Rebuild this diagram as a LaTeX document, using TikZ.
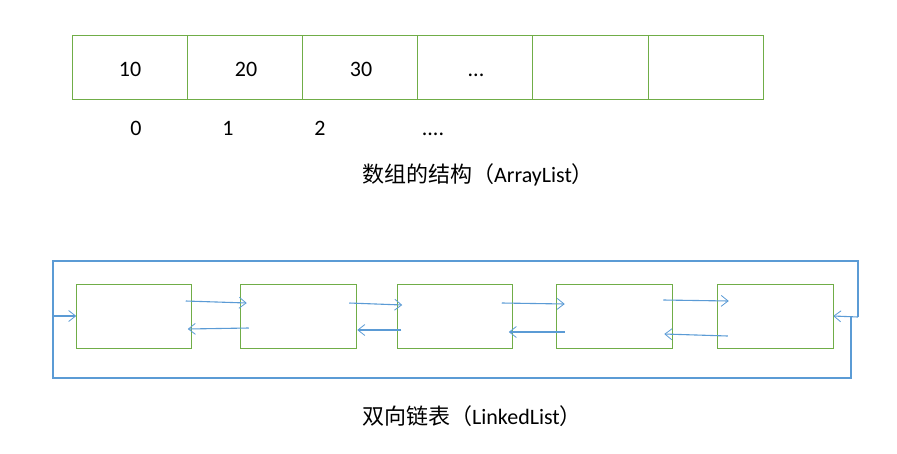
\documentclass[tikz,border=0pt]{standalone}
\usepackage{fontspec}
\setmainfont{Carlito}
\newfontfamily\cjk{Noto Sans CJK SC}
\usetikzlibrary{arrows.meta,calc}
\definecolor{boxgreen}{HTML}{70AD47}
\definecolor{linkblue}{HTML}{5B9BD5}
\begin{document}
\begin{tikzpicture}[x=1pt,y=-1pt,
  cell/.style={draw=boxgreen,line width=0.9pt,minimum width=115.2pt,minimum height=64pt,inner sep=0pt,outer sep=0pt},
  lnode/.style={draw=boxgreen,line width=0.9pt,minimum width=115.5pt,minimum height=64pt,inner sep=0pt,outer sep=0pt},
  txt/.style={font=\fontsize{22}{26}\selectfont,anchor=base,inner sep=0pt},
  link/.style={draw=linkblue,line width=1.1pt},
  arr/.style={link,-{Straight Barb[length=7pt,width=11pt,line width=0.8pt]}}]
\useasboundingbox (0,0) rectangle (897,453);
% array
\foreach \i in {0,...,5}{
  \node[cell] (c\i) at ({72+57.6+115.2*\i},67) {};
}
\node[txt] (t0) at (130,76) {10};
\node[txt] (t1) at (246,76) {20};
\node[txt] (t2) at (361,76) {30};
\node[txt] (t3) at (476,76) {...};
\node[txt] (i0) at (136,135) {0};
\node[txt] (i1) at (228,135) {1};
\node[txt] (i2) at (320,135) {2};
\node[txt] (i3) at (433,135) {....};
\node[txt] (cap1) at (478,182) {{\cjk 数组的结构（}ArrayList{\cjk ）}};
% linked list
\node[lnode] (b1) at (134,316) {};
\node[lnode] (b2) at (298.5,316) {};
\node[lnode] (b3) at (455,316) {};
\node[lnode] (b4) at (614.5,316) {};
\node[lnode] (b5) at (775.5,316) {};
\draw[arr] ([shift={(-6,-15)}]b1.east) -- ([shift={(6,-13)}]b2.west);
\draw[arr] ([shift={(8,12)}]b2.west) -- ([shift={(-4,13)}]b1.east);
\draw[arr] ([shift={(-7,-13)}]b2.east) -- ([shift={(5,-11)}]b3.west);
\draw[arr] ([shift={(4,14)}]b3.west) -- ([shift={(1,14)}]b2.east);
\draw[arr] ([shift={(-11,-13)}]b3.east) -- ([shift={(8,-12)}]b4.west);
\draw[arr] ([shift={(8,16)}]b4.west) -- ([shift={(-4,16)}]b3.east);
\draw[arr] ([shift={(-9,-16)}]b4.east) -- ([shift={(11,-15)}]b5.west);
\draw[arr] ([shift={(10,20)}]b5.west) -- ([shift={(-8,18)}]b4.east);
% outer loop
\coordinate (lin) at (53,316);
\coordinate (rb) at (851,317);
\coordinate (bl) at (53,378);
\coordinate (tl) at (53,261);
\coordinate (tr) at (858,261);
\coordinate (rt) at (858,317);
\draw[arr] (lin) -- (b1.west);
\draw[link,line join=miter] (rb) |- (bl) -- (tl) -- (tr) -- (rt);
\draw[arr] (rt) -- (b5.east);
\node[txt] (cap2) at (472,424) {{\cjk 双向链表（}LinkedList{\cjk ）}};
\end{tikzpicture}
\end{document}
